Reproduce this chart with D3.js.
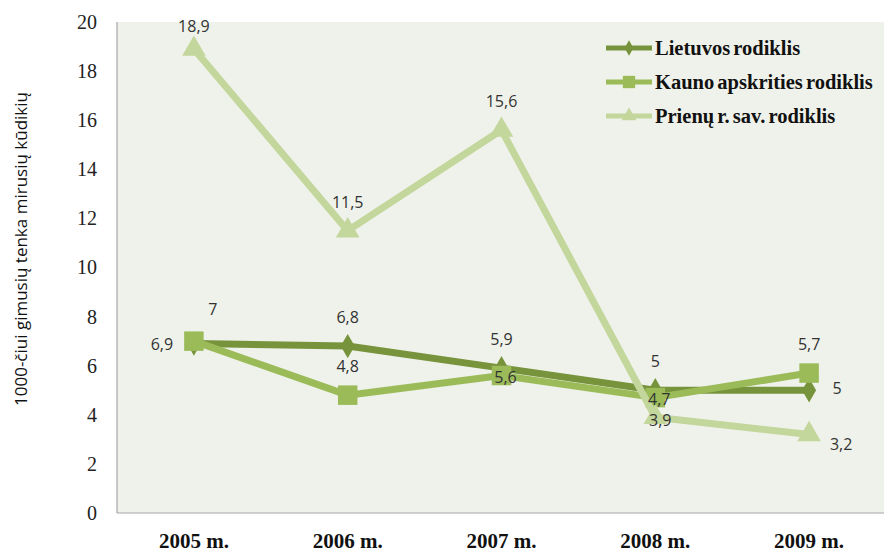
<!DOCTYPE html>
<html><head><meta charset="utf-8">
<script src="https://cdn.jsdelivr.net/npm/d3@7"></script>
<style>body{margin:0;background:#fff}svg{display:block}</style>
</head><body><svg id="c" width="884" height="554"></svg>
<script>
const categories = ["2005 m.","2006 m.","2007 m.","2008 m.","2009 m."];
const seriesNames = ["Lietuvos rodiklis","Kauno apskrities rodiklis","Prienų r. sav. rodiklis"];
const lietuvos = [6.9, 6.8, 5.9, 5, 5];
const kauno = [7, 4.8, 5.6, 4.7, 5.7];
const prienu = [18.9, 11.5, 15.6, 3.9, 3.2];
const yTicks = [0,2,4,6,8,10,12,14,16,18,20];
const yTitle = "1000-čiui gimusių tenka mirusių kūdikių";
// label placement per point
const lietPos = ["left","above","above","above","right"];
const kaunoPos = ["aboveRight","above","on","on","above"];
const prienuPos = ["above","above","above","below","belowRight"];

const svg = d3.select("#c");
const L = 117, R = 886, T = 22, B = 513;
const x = d3.scaleBand().domain(categories).range([L, R]);
const y = d3.scaleLinear().domain([0, 20]).range([B, T]);

svg.append("rect").attr("x", L).attr("y", T).attr("width", R - L).attr("height", B - T).attr("fill", "#EFF2EA");
svg.append("line").attr("x1", L).attr("x2", L).attr("y1", T).attr("y2", B).attr("stroke", "#A6A6A6").attr("stroke-width", 1.2);
svg.append("line").attr("x1", L).attr("x2", R).attr("y1", B).attr("y2", B).attr("stroke", "#A6A6A6").attr("stroke-width", 1.2);

const yAxis = d3.axisLeft(y).tickValues(yTicks).tickSize(0).tickPadding(0);
const ga = svg.append("g").attr("transform", `translate(${L - 20},0)`).call(yAxis);
ga.select(".domain").remove();
ga.selectAll("text").attr("font-family", "Liberation Serif").attr("font-size", 20).attr("fill", "#222").attr("dy", "0.32em");

const xAxis = d3.axisBottom(x).tickSize(0).tickPadding(0);
const gx = svg.append("g").attr("transform", `translate(0,${B})`).call(xAxis);
gx.select(".domain").remove();
gx.selectAll("text").attr("font-family", "Liberation Serif").attr("font-weight", "bold").attr("font-size", 21).attr("fill", "#111").attr("dy", 0).attr("y", 35);

svg.append("text").attr("transform", `translate(27,249) rotate(-90)`)
  .attr("text-anchor", "middle").attr("font-family", "Open Sans").attr("font-size", 17).attr("fill", "#111").text(yTitle);

const series = [
  {name: seriesNames[0], vals: lietuvos, color: "#77933C", sym: d3.symbolDiamond, size: 170, pos: lietPos},
  {name: seriesNames[1], vals: kauno, color: "#9BBB59", sym: d3.symbolSquare, size: 380, pos: kaunoPos},
  {name: seriesNames[2], vals: prienu, color: "#C3D69B", sym: d3.symbolTriangle, size: 240, pos: prienuPos}
];
const cx = c => x(c) + x.bandwidth() / 2;
const line = d3.line().x((d, i) => cx(categories[i])).y(d => y(d));

series.forEach(s => {
  svg.append("path").attr("d", line(s.vals)).attr("fill", "none").attr("stroke", s.color).attr("stroke-width", 7).attr("stroke-linejoin", "round");
  s.vals.forEach((v, i) => {
    svg.append("path").attr("d", d3.symbol(s.sym, s.size)()).attr("fill", s.color)
      .attr("transform", `translate(${cx(categories[i])},${y(v)})`);
  });
});

const off = {left: [-32, 6], above: [0, -23], right: [28, 4], below: [5, 9], on: [4, 7], aboveRight: [19, -26], belowRight: [32, 16]};
series.forEach(s => {
  s.vals.forEach((v, i) => {
    const o = off[s.pos[i]];
    const ty = Math.max(y(v) + o[1], T + 10);
    svg.append("text").attr("x", cx(categories[i]) + o[0]).attr("y", ty).attr("text-anchor", "middle")
      .attr("font-family", "Open Sans").attr("font-size", 16).attr("fill", "#333").text(String(v).replace(".", ","));
  });
});

const lg = svg.append("g");
series.forEach((s, i) => {
  const yy = 48 + i * 34;
  lg.append("line").attr("x1", 606).attr("x2", 652).attr("y1", yy).attr("y2", yy).attr("stroke", s.color).attr("stroke-width", 5);
  lg.append("path").attr("d", d3.symbol(s.sym, s.size * 0.4)()).attr("fill", s.color).attr("transform", `translate(629,${yy})`);
  lg.append("text").attr("x", 655).attr("y", yy + 7).attr("font-family", "Liberation Serif").attr("font-weight", "bold")
    .attr("font-size", 20.5).attr("word-spacing", -2).attr("fill", "#111").text(s.name);
});
</script></body></html>
